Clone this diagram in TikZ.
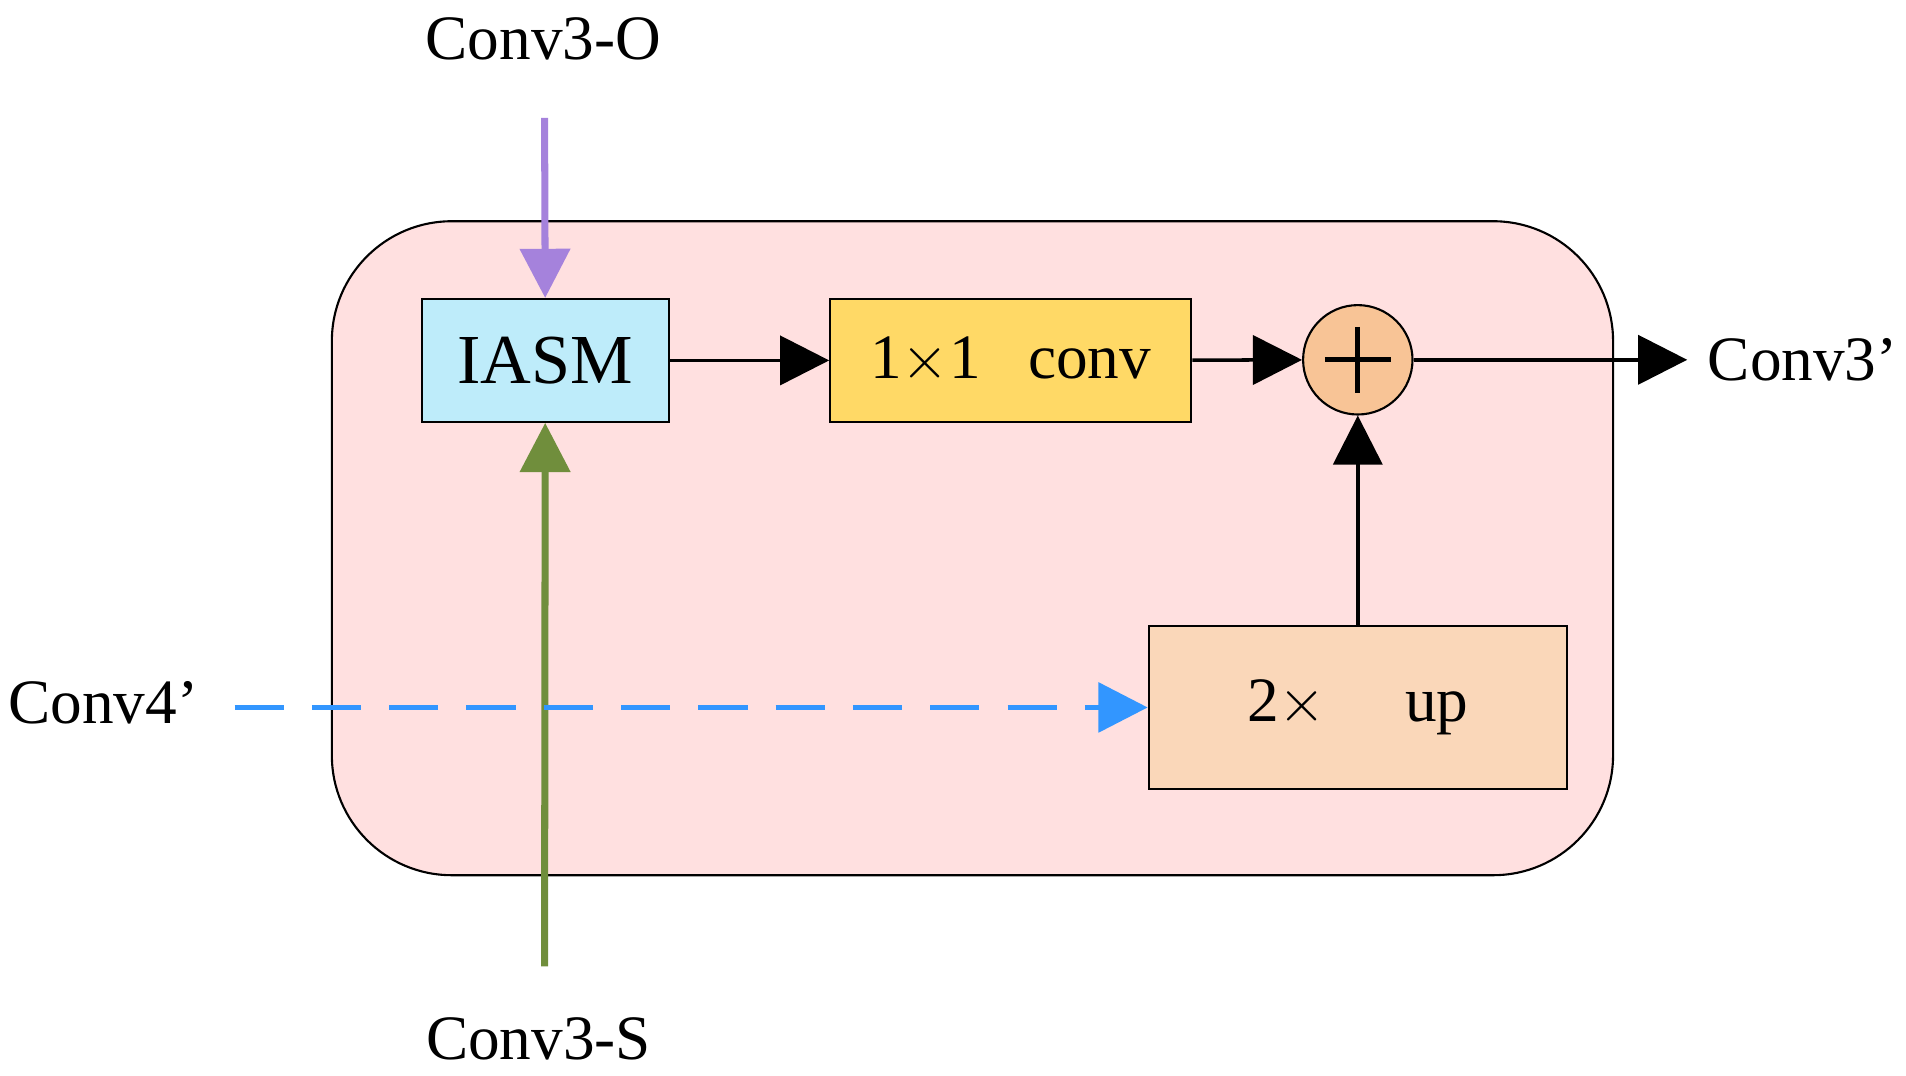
\documentclass[tikz,border=0pt]{standalone}
\usepackage{fontspec}
\setmainfont{Liberation Serif}
\usetikzlibrary{arrows.meta,positioning,calc}
\definecolor{panelpink}{RGB}{255,224,224}
\definecolor{iasmblue}{RGB}{190,236,250}
\definecolor{convyellow}{RGB}{255,217,102}
\definecolor{sumorange}{RGB}{248,196,150}
\definecolor{uppeach}{RGB}{250,215,185}
\definecolor{linepurple}{RGB}{165,130,220}
\definecolor{linegreen}{RGB}{112,142,60}
\definecolor{lineblue}{RGB}{50,150,255}
\begin{document}
\begin{tikzpicture}[
    x=0.012156cm, y=-0.012156cm,
    font=\fontsize{18}{22}\selectfont,
    % Styles
    block/.style={
        rectangle,
        draw=black,
        line width=0.6pt,
        text centered,
        inner sep=0pt
    },
    label/.style={inner sep=0pt},
    % Line Styles
    flow/.style={draw, line width=1pt, -{Triangle[length=14pt,width=14pt]}}
]
\useasboundingbox (0,0) rectangle (1568,885);

% --- Panel ---
\draw[fill=panelpink, line width=0.6pt, rounded corners=1.2cm] (273,182) rectangle (1327,720);

% --- Nodes ---
\node[block, fill=iasmblue, minimum width=203*0.012156cm, minimum height=101*0.012156cm] (IASM) at (448.5,296.5) {\fontsize{20}{24}\selectfont IASM};
\node[block, fill=convyellow, minimum width=297*0.012156cm, minimum height=101*0.012156cm] (Conv) at (831.5,296.5) {1${\times}$1\enspace\ conv};
\node[circle, draw=black, line width=0.6pt, fill=sumorange, minimum size=90*0.012156cm, inner sep=0pt] (Sum) at (1117,296) {};
\draw[line width=1.4pt] ($(Sum.center)+(-27,0)$) -- ($(Sum.center)+(27,0)$)
    ($(Sum.center)+(0,-27)$) -- ($(Sum.center)+(0,27)$);
\node[block, fill=uppeach, minimum width=344*0.012156cm, minimum height=134*0.012156cm] (Up) at (1117,582) {2${\times}$\quad\ up};

% Inputs and output
\node[label] (InO) at (447,32) {Conv3-O};
\node[label] (InS) at (443,855) {Conv3-S};
\node[label] (InFour) at (85,578) {Conv4'};
\node[label] (Out) at (1483,296) {Conv3'};
\coordinate (OTop) at (448,97);
\coordinate (SBot) at (448,795);
\coordinate (FourStart) at (193,582);
\coordinate (OutEnd) at (1388,296);

% --- Relationships ---
\draw[flow, draw=linepurple, -{Triangle[length=14pt,width=14pt,fill=linepurple]}, line width=2pt] (OTop) -- (IASM.north);
\draw[flow, draw=linegreen, -{Triangle[length=14pt,width=14pt,fill=linegreen]}, line width=2pt] (SBot) -- (IASM.south);
\draw[flow, draw=lineblue, dash pattern=on 14pt off 8pt, line width=1.5pt, -{Triangle[length=14pt,width=14pt,fill=lineblue]}] (FourStart) -- (Up.west);
\draw[flow] (IASM) -- (Conv);
\draw[flow] (Conv) -- (Sum);
\draw[flow] (Up) -- (Sum);
\draw[flow] (Sum) -- (OutEnd);

\end{tikzpicture}
\end{document}
